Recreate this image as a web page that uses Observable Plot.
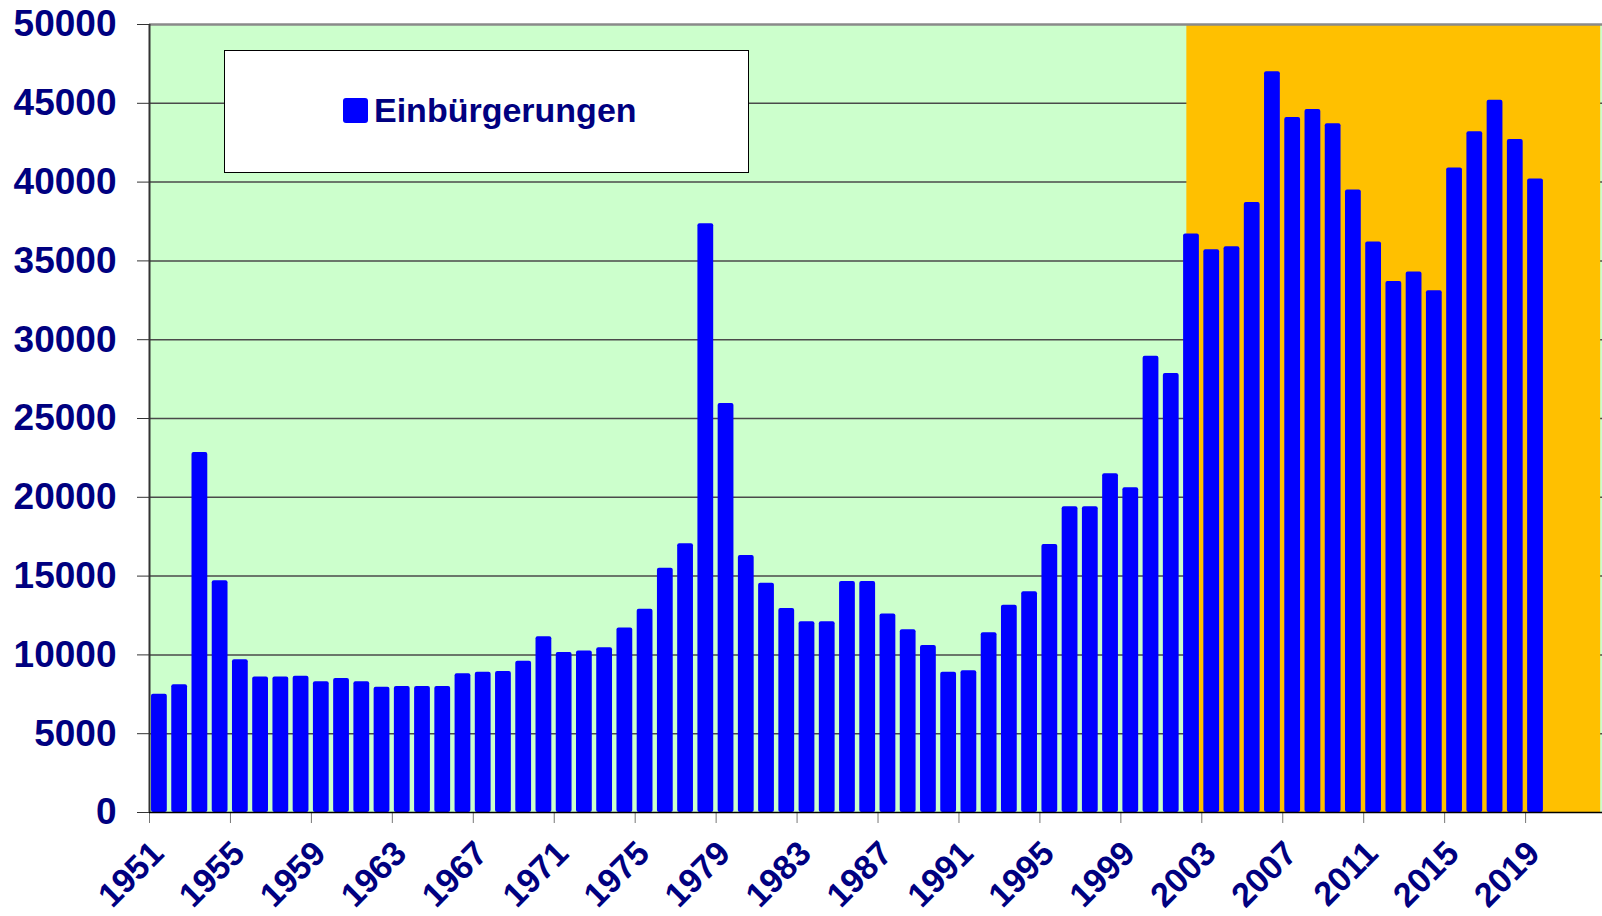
<!DOCTYPE html>
<html>
<head>
<meta charset="utf-8">
<script src="https://cdn.jsdelivr.net/npm/d3@7"></script>
<script src="https://cdn.jsdelivr.net/npm/@observablehq/plot@0.6"></script>
<style>
  html, body { margin: 0; padding: 0; background: #fff; }
  #wrap { position: relative; width: 1602px; height: 916px; font-family: "Liberation Sans", Arial, sans-serif; }
  #wrap svg { position: absolute; left: 0; top: 0; font-family: "Liberation Sans", Arial, sans-serif; }
  #wrap svg g[aria-label^="y-axis"] text { font-size: 37px; font-weight: bold; fill: #000080; }
  #wrap svg g[aria-label^="y-axis"] { color: #333; }
  #wrap svg g[aria-label^="x-axis"] { color: #777; }
  #legend { position: absolute; left: 224px; top: 50px; width: 525px; height: 123px; box-sizing: border-box;
            border: 1.5px solid #000; background: #fff; }
  #legend .sw { position: absolute; left: 118px; top: 47px; width: 25px; height: 25px; background: #0000ff; border-radius: 3px; }
  #legend .lb { position: absolute; left: 149px; top: 42px; font-size: 34px; line-height: 1; font-weight: bold; color: #000080; white-space: nowrap; }
</style>
</head>
<body>
<div id="wrap">
  <div id="legend"><div class="sw"></div><div class="lb">Einbürgerungen</div></div>
</div>
<script>
// Categories (years) and series values
const years = d3.range(1951, 2020);
const einbuergerungen = [
  7500, 8100, 22850, 14700, 9700, 8600, 8600, 8650, 8300, 8500,
  8300, 7950, 8000, 8000, 8000, 8800, 8900, 8950, 9600, 11150,
  10150, 10250, 10450, 11700, 12900, 15500, 17050, 37350, 25950, 16300,
  14550, 12950, 12100, 12100, 14650, 14650, 12600, 11600, 10600, 8900,
  9000, 11400, 13150, 14000, 17000, 19400, 19400, 21500, 20600, 28950,
  27850, 36700, 35700, 35900, 38700, 47000, 44100, 44600, 43700, 39500,
  36200, 33700, 34300, 33100, 40900, 43200, 45200, 42700, 40200
];
const yTicks = [0, 5000, 10000, 15000, 20000, 25000, 30000, 35000, 40000, 45000, 50000];
const xTickYears = [1951, 1955, 1959, 1963, 1967, 1971, 1975, 1979, 1983, 1987, 1991, 1995, 1999, 2003, 2007, 2011, 2015, 2019];
const highlight = [{start: 2002.26, end: 2022.71}];
const xDomain = [1951, 2022.8];

const data = years.map((year, i) => ({year, value: einbuergerungen[i]}));
const navy = "#000080";

const chart = Plot.plot({
  width: 1602,
  height: 916,
  marginLeft: 149,
  marginRight: 0,
  marginTop: 24,
  marginBottom: 104,
  style: {background: "transparent", fontFamily: "Liberation Sans, Arial, sans-serif"},
  x: {type: "linear", domain: xDomain, ticks: xTickYears, tickSize: 11, tickFormat: () => "", label: null},
  y: {domain: [0, 50000], ticks: yTicks, tickSize: 12, tickPadding: 21, tickFormat: d => String(d), label: null},
  marks: [
    Plot.frame({fill: "#CCFFCC", stroke: null}),
    Plot.ruleY(yTicks.filter(d => d > 0 && d < 50000), {stroke: "#4a4a4a", strokeWidth: 1.5}),
    Plot.rect(highlight, {x1: "start", x2: "end", y1: 0, y2: 50000, fill: "#FFC000"}),
    Plot.ruleY([50000], {stroke: "#8a8a8a", strokeWidth: 2.5}),
    Plot.rect(data, {x1: d => d.year + 0.1, x2: d => d.year + 0.88, y1: 0, y2: "value", fill: "#0000FF", rx: 2}),
    Plot.ruleY([0], {stroke: "#000", strokeWidth: 1.5}),
    Plot.ruleX([xDomain[0]], {stroke: "#333", strokeWidth: 2}),
    Plot.text(xTickYears, {
      x: d => d + 0.5, frameAnchor: "bottom", text: d => String(d),
      rotate: -45, textAnchor: "end", lineAnchor: "bottom", dx: 6, dy: 43,
      fontSize: 34, fontWeight: "bold", fill: navy
    })
  ]
});
document.getElementById("wrap").prepend(chart);
</script>
</body>
</html>
